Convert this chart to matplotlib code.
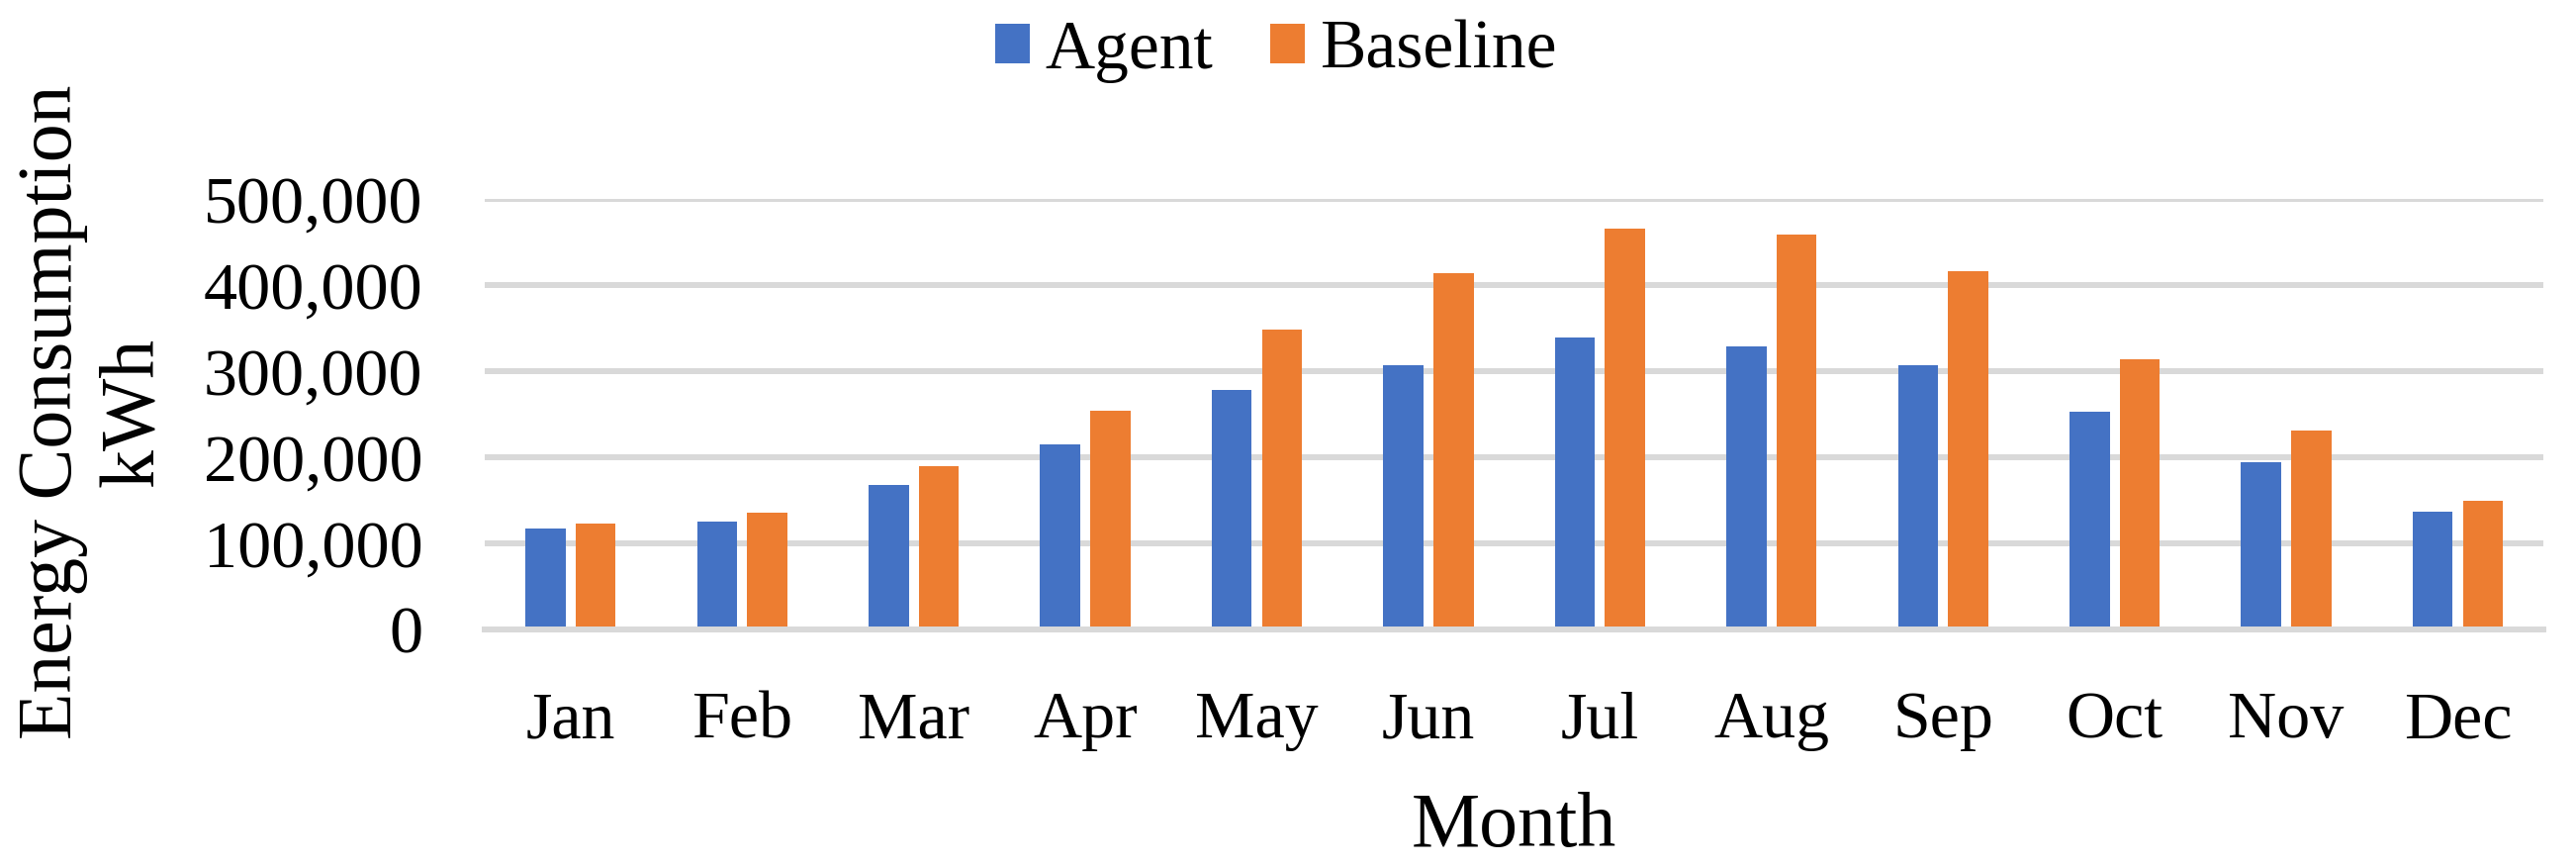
import numpy as np
import matplotlib
matplotlib.use("Agg")
import matplotlib.pyplot as plt
from matplotlib.ticker import StrMethodFormatter

# monthly energy use (kWh)
months = ["Jan", "Feb", "Mar", "Apr", "May", "Jun",
          "Jul", "Aug", "Sep", "Oct", "Nov", "Dec"]
agent = [117000, 125000, 167000, 215000, 278000, 306000,
         339000, 328000, 306000, 252000, 194000, 137000]
baseline = [123000, 135000, 189000, 254000, 348000, 413000,
            465000, 458000, 416000, 313000, 231000, 149000]
y_ticks = [0, 100000, 200000, 300000, 400000, 500000]

plt.rcParams["font.family"] = ["Liberation Serif", "DejaVu Serif"]

fig = plt.figure(figsize=(26.04, 8.76), dpi=100)
ax = fig.add_axes([0.1882, 0.2743, 0.7992, 0.4966])

x = np.arange(len(months))
w = 0.234  # bar width as fraction of a category
off = 0.146  # half distance between the two bar centres
ax.bar(x - off, agent, w, color="#4472C4", label="Agent", zorder=2)
ax.bar(x + off, baseline, w, color="#ED7D31", label="Baseline", zorder=2)

ax.set_xlim(-0.5, len(months) - 0.5)
ax.set_ylim(0, 500000)
ax.set_yticks(y_ticks)
ax.yaxis.set_major_formatter(StrMethodFormatter("{x:,.0f}"))
ax.set_xticks(x)
ax.set_xticklabels(months)

# light grey gridlines behind the bars
ax.grid(axis="y", color="#D9D9D9", linewidth=4.3, zorder=0)
ax.set_axisbelow(True)
for s in ["top", "right", "left"]:
    ax.spines[s].set_visible(False)
ax.spines["bottom"].set_color("#D9D9D9")
ax.spines["bottom"].set_linewidth(4.3)
ax.spines["bottom"].set_zorder(3)

ax.tick_params(axis="y", length=0, pad=45, labelsize=49)
ax.tick_params(axis="x", length=0, pad=45, labelsize=49)

ax.set_xlabel("Month", fontsize=56, labelpad=30)
fig.text(94 / 2604, 1 - 416 / 876, "Energy Consumption\nkWh", rotation=90,
         ha="center", va="center", multialignment="center", fontsize=56)

fig.legend(loc="center", bbox_to_anchor=(1290 / 2604, 1 - 52 / 876), ncol=2,
           frameon=False, fontsize=50, handlelength=0.5, handleheight=0.5,
           handletextpad=0.23, columnspacing=0.83)

fig.savefig("out.png", dpi=100)
